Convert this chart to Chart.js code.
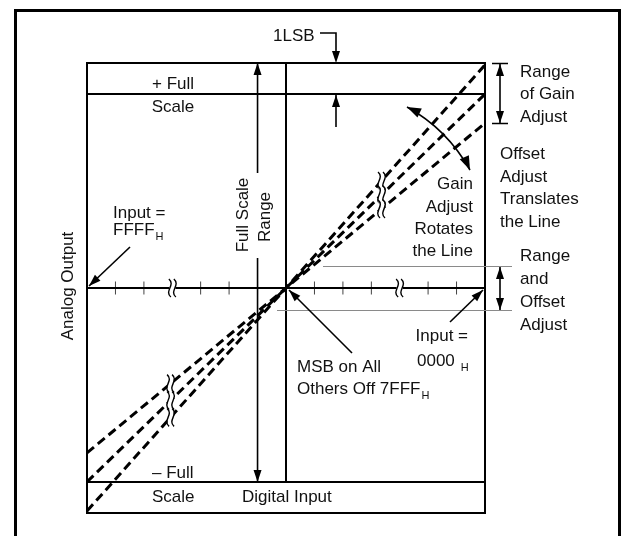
<!DOCTYPE html>
<html>
<head>
<meta charset="utf-8">
<script src="https://cdn.jsdelivr.net/npm/chart.js@4"></script>
<style>
  html, body { margin: 0; padding: 0; background: #fff; }
  canvas { display: block; }
</style>
</head>
<body>
<canvas id="dacChart" width="625" height="536"></canvas>
<script>
// dados do diagrama (unidades de fundo de escala)
const inputEnds = [-1, 1];
const highGain = [-1.15, 1.15];
const nominal = [-1, 1];
const lowGain = [-0.85, 0.85];
const fullScale = [1, -1];
const axisTicks = [-0.857, -0.714, -0.429, -0.286, -0.143, 0.143, 0.286, 0.429, 0.714, 0.857];
const axisBreaks = [-0.571, 0.571];
const lineBreaks = [-0.58, 0.48];
const yLimit = 1.16;

const FONT = '"Liberation Sans", Arial, Helvetica, sans-serif';

function pts(xs, ys) {
    return xs.map((x, i) => ({ x: x, y: ys[i] }));
}

function head(ctx, x1, y1, x2, y2, len, w) {
    len = len || 12; w = w || 4;
    const a = Math.atan2(y2 - y1, x2 - x1);
    ctx.beginPath();
    ctx.moveTo(x2, y2);
    ctx.lineTo(x2 - len * Math.cos(a) + w * Math.sin(a), y2 - len * Math.sin(a) - w * Math.cos(a));
    ctx.lineTo(x2 - len * Math.cos(a) - w * Math.sin(a), y2 - len * Math.sin(a) + w * Math.cos(a));
    ctx.closePath();
    ctx.fill();
}

function arrow(ctx, x1, y1, x2, y2, both) {
    ctx.beginPath();
    ctx.moveTo(x1, y1);
    ctx.lineTo(x2, y2);
    ctx.stroke();
    head(ctx, x1, y1, x2, y2);
    if (both) head(ctx, x2, y2, x1, y1);
}

function squiggle(ctx, x, y) {
    // marca de quebra: duas ondas verticais
    ctx.save();
    ctx.fillStyle = '#fff';
    ctx.fillRect(x - 3, y - 8, 6, 16);
    ctx.strokeStyle = '#000';
    ctx.lineWidth = 1.4;
    [-2.5, 2.5].forEach(dx => {
        ctx.beginPath();
        ctx.moveTo(x + dx - 1, y - 9);
        ctx.bezierCurveTo(x + dx + 6, y - 3, x + dx - 6, y + 3, x + dx + 1, y + 9);
        ctx.stroke();
    });
    ctx.restore();
}

function txt(ctx, s, x, y, align) {
    ctx.textAlign = align || 'left';
    ctx.fillText(s, x, y);
}

// texto com subscrito "H" logo depois
function txtSub(ctx, s, x, y, gap) {
    ctx.textAlign = 'left';
    ctx.font = '17px ' + FONT;
    ctx.fillText(s, x, y);
    const w = ctx.measureText(s).width;
    ctx.font = '11px ' + FONT;
    ctx.fillText('H', x + w + gap, y + 7);
    ctx.font = '17px ' + FONT;
}

const decoracoes = {
    id: 'decoracoes',
    afterDatasetsDraw(chart) {
        const ctx = chart.ctx;
        const sx = chart.scales.x, sy = chart.scales.y;
        const a = chart.chartArea;
        ctx.save();

        // quebras nas retas de transferência
        [highGain, nominal, lowGain].forEach(line => {
            const slope = line[1];
            lineBreaks.forEach(bx => squiggle(ctx, sx.getPixelForValue(bx), sy.getPixelForValue(slope * bx)));
        });
        // quebras no eixo
        axisBreaks.forEach(bx => squiggle(ctx, sx.getPixelForValue(bx), sy.getPixelForValue(0)));

        // moldura externa
        ctx.strokeStyle = '#000';
        ctx.lineWidth = 3;
        ctx.strokeRect(15.5, 10.5, 604, 540);

        // caixa do gráfico
        ctx.lineWidth = 2;
        ctx.strokeRect(a.left, a.top, a.right - a.left, a.bottom - a.top);

        // linhas finas de offset
        ctx.strokeStyle = '#8a8a8a';
        ctx.lineWidth = 1;
        ctx.beginPath();
        ctx.moveTo(323, 266.5); ctx.lineTo(512, 266.5);
        ctx.moveTo(277, 310.5); ctx.lineTo(512, 310.5);
        ctx.stroke();

        ctx.strokeStyle = '#000';
        ctx.fillStyle = '#000';
        ctx.lineWidth = 1.6;

        // Full Scale Range
        const fx = sx.getPixelForValue(-0.143);
        arrow(ctx, fx, 173, fx, a.top);
        arrow(ctx, fx, 258, fx, sy.getPixelForValue(-1));

        // 1LSB
        ctx.beginPath();
        ctx.moveTo(320, 33); ctx.lineTo(336, 33); ctx.lineTo(336, 52);
        ctx.stroke();
        head(ctx, 336, 40, 336, a.top);
        arrow(ctx, 336, 127, 336, sy.getPixelForValue(1) + 1);

        // Range of Gain Adjust
        ctx.beginPath();
        ctx.moveTo(492, 63.5); ctx.lineTo(508, 63.5);
        ctx.moveTo(492, 123.5); ctx.lineTo(508, 123.5);
        ctx.stroke();
        arrow(ctx, 500, 64, 500, 123, true);

        // Range and Offset Adjust
        arrow(ctx, 500, 267, 500, 310, true);

        // Gain adjust (arco)
        ctx.beginPath();
        ctx.moveTo(407, 107);
        ctx.quadraticCurveTo(447, 129, 470, 170);
        ctx.stroke();
        head(ctx, 430, 118, 407, 107, 14, 5);
        head(ctx, 462, 152, 470, 170, 14, 5);

        // setas dos rótulos
        arrow(ctx, 130, 247, 89, 286);
        arrow(ctx, 450, 322, 483, 290);
        arrow(ctx, 352, 353, 289, 290);

        // textos
        ctx.fillStyle = '#111';
        ctx.textBaseline = 'middle';
        ctx.font = '17px ' + FONT;
        txt(ctx, '1LSB', 273, 36);
        txt(ctx, '+ Full', 173, 84, 'center');
        txt(ctx, 'Scale', 173, 107, 'center');
        txt(ctx, 'Input =', 113, 213);
        txtSub(ctx, 'FFFF', 113, 230, 1);
        txt(ctx, 'Gain', 473, 184, 'right');
        txt(ctx, 'Adjust', 473, 207, 'right');
        txt(ctx, 'Rotates', 473, 229, 'right');
        txt(ctx, 'the Line', 473, 251, 'right');
        txt(ctx, 'Offset', 500, 154);
        txt(ctx, 'Adjust', 500, 177);
        txt(ctx, 'Translates', 500, 199);
        txt(ctx, 'the Line', 500, 222);
        txt(ctx, 'Range', 520, 72);
        txt(ctx, 'of Gain', 520, 94);
        txt(ctx, 'Adjust', 520, 117);
        txt(ctx, 'Range', 520, 256);
        txt(ctx, 'and', 520, 279);
        txt(ctx, 'Offset', 520, 302);
        txt(ctx, 'Adjust', 520, 325);
        txt(ctx, 'Input =', 468, 336, 'right');
        txtSub(ctx, '0000', 417, 361, 6);
        txt(ctx, 'MSB on All', 297, 367);
        txtSub(ctx, 'Others Off 7FFF', 297, 389, 1);
        txt(ctx, '\u2013 Full', 152, 473);
        txt(ctx, 'Scale', 152, 497);
        txt(ctx, 'Digital Input', 242, 497);

        // textos verticais
        ctx.textAlign = 'center';
        [['Analog Output', 68, 286], ['Full Scale', 243, 215], ['Range', 265, 217]].forEach(t => {
            ctx.save();
            ctx.translate(t[1], t[2]);
            ctx.rotate(-Math.PI / 2);
            ctx.fillText(t[0], 0, 0);
            ctx.restore();
        });

        ctx.restore();
    }
};

const tracejado = { borderColor: '#000', borderWidth: 3, borderDash: [9, 5], pointRadius: 0, showLine: true, fill: false };
const solido = { borderColor: '#000', borderWidth: 2, pointRadius: 0, showLine: true, fill: false };

new Chart(document.getElementById('dacChart').getContext('2d'), {
    type: 'scatter',
    data: {
        datasets: [
            Object.assign({ label: 'High gain', data: pts(inputEnds, highGain) }, tracejado),
            Object.assign({ label: 'Nominal', data: pts(inputEnds, nominal) }, tracejado),
            Object.assign({ label: 'Low gain', data: pts(inputEnds, lowGain) }, tracejado),
            Object.assign({ label: '+FS', data: pts(inputEnds, [fullScale[0], fullScale[0]]) }, solido),
            Object.assign({ label: '-FS', data: pts(inputEnds, [fullScale[1], fullScale[1]]) }, solido),
            Object.assign({ label: 'Axis', data: pts(inputEnds, [0, 0]) }, solido),
            Object.assign({ label: 'Center', data: pts([0, 0], [fullScale[1], yLimit]) }, solido),
            {
                label: 'Ticks',
                data: axisTicks.map(x => ({ x: x, y: 0 })),
                pointStyle: 'line',
                rotation: 90,
                pointRadius: 6.5,
                borderColor: '#444',
                borderWidth: 1,
                showLine: false
            }
        ]
    },
    options: {
        responsive: false,
        animation: false,
        devicePixelRatio: 1,
        layout: { padding: { left: 87, right: 140, top: 63, bottom: 23 } },
        scales: {
            x: { type: 'linear', min: -1, max: 1, display: false },
            y: { type: 'linear', min: -yLimit, max: yLimit, display: false }
        },
        plugins: { legend: { display: false }, tooltip: { enabled: false } }
    },
    plugins: [decoracoes]
});
</script>
</body>
</html>
